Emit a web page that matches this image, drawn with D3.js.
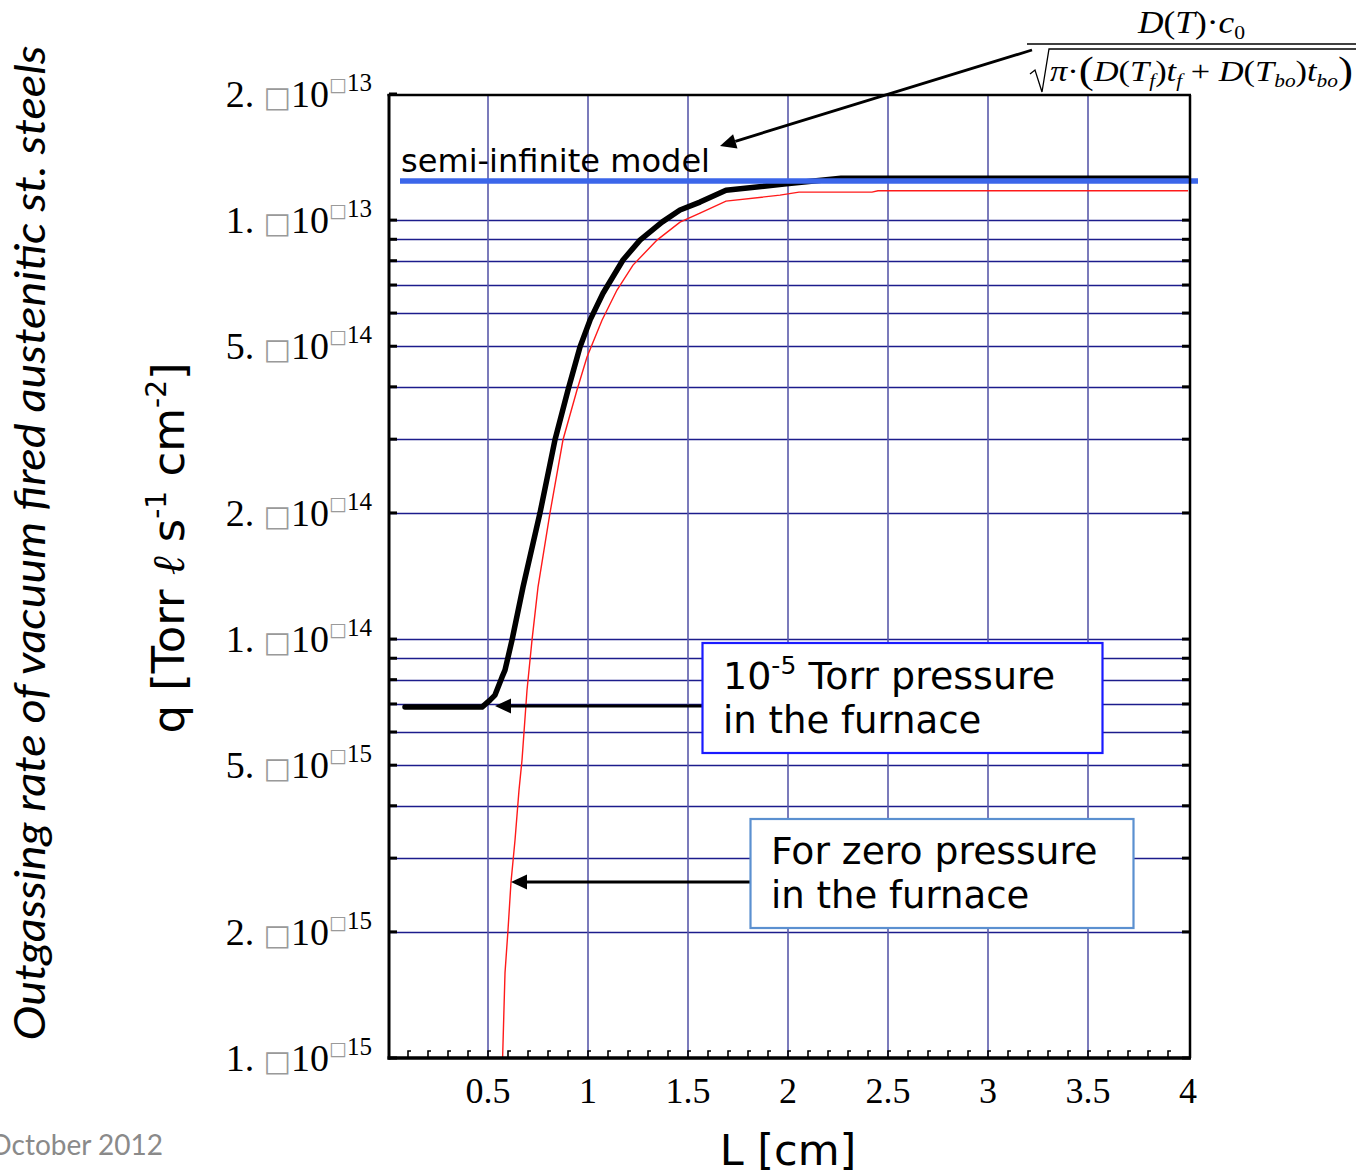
<!DOCTYPE html>
<html><head><meta charset="utf-8">
<script src="https://cdnjs.cloudflare.com/ajax/libs/d3/7.8.5/d3.min.js"></script>
<style>body{margin:0;background:#fff;overflow:hidden}</style>
</head><body>
<svg id="chart" width="1358" height="1175"></svg>
<script>
// ---------- data ----------
const xTicks = [0.5, 1, 1.5, 2, 2.5, 3, 3.5, 4];
const xTickLabels = ["0.5", "1", "1.5", "2", "2.5", "3", "3.5", "4"];
const yTicks = [2e-13, 1e-13, 5e-14, 2e-14, 1e-14, 5e-15, 2e-15, 1e-15];
const yTickMantissa = ["2.", "1.", "5.", "2.", "1.", "5.", "2.", "1."];
const yTickExponent = ["13", "13", "14", "14", "14", "15", "15", "15"];

// 10^-5 Torr pressure in the furnace (black)
const pressureL = [0.085, 0.47, 0.51, 0.535, 0.57, 0.585, 0.62, 0.675, 0.76, 0.835, 0.90, 0.96, 1.01, 1.075, 1.175, 1.26, 1.37, 1.46, 1.56, 1.69, 1.98, 2.265, 4.0];
const pressureQ = [6.88e-15, 6.88e-15, 7.15e-15, 7.35e-15, 8.11e-15, 8.43e-15, 9.94e-15, 1.33e-14, 2.0e-14, 2.99e-14, 3.93e-14, 4.98e-14, 5.77e-14, 6.69e-14, 8.03e-14, 8.96e-14, 9.89e-14, 1.057e-13, 1.104e-13, 1.179e-13, 1.219e-13, 1.259e-13, 1.259e-13];

// zero pressure in the furnace (red)
const zeroL = [0.573, 0.585, 0.60, 0.615, 0.635, 0.655, 0.67, 0.695, 0.72, 0.75, 0.81, 0.875, 0.945, 0.995, 1.07, 1.145, 1.225, 1.345, 1.46, 1.56, 1.69, 1.96, 2.055, 2.42, 2.45, 4.0];
const zeroQ = [1.0e-15, 1.596e-15, 2.02e-15, 2.63e-15, 3.31e-15, 4.36e-15, 5.14e-15, 7.55e-15, 9.94e-15, 1.33e-14, 2.0e-14, 2.99e-14, 3.93e-14, 4.71e-14, 5.77e-14, 6.81e-14, 7.81e-14, 8.96e-14, 9.89e-14, 1.039e-13, 1.11e-13, 1.147e-13, 1.166e-13, 1.166e-13, 1.175e-13, 1.175e-13];

// semi-infinite model (blue)
const semiInfiniteL = [0.06, 4.05];
const semiInfiniteQ = [1.24e-13, 1.24e-13];

// ---------- scales ----------
const svg = d3.select("#chart");
const x = d3.scaleLinear().domain([0, 4]).range([388, 1188]);
const y = d3.scaleLog().domain([1e-15, 2e-13]).range([1058, 94]);
const pLeft = 389, pRight = 1190, pTop = 95, pBottom = 1058;

// grid values
const gridQ = [];
for (let e = -15; e <= -14; e++) for (let k = 1; k <= 9; k++) gridQ.push(k * Math.pow(10, e));
gridQ.push(1e-13);
const gridL = [0.5, 1, 1.5, 2, 2.5, 3, 3.5];

const g = svg.append("g");
g.selectAll("line.hg").data(gridQ.filter(v => v > 1e-15)).join("line")
  .attr("x1", pLeft).attr("x2", pRight)
  .attr("y1", d => Math.round(y(d)) + 0.5).attr("y2", d => Math.round(y(d)) + 0.5)
  .attr("stroke", "#1c1c8c").attr("stroke-width", 1.3);
g.selectAll("line.vg").data(gridL).join("line")
  .attr("x1", d => x(d)).attr("x2", d => x(d))
  .attr("y1", pTop).attr("y2", pBottom)
  .attr("stroke", "#5a5aaa").attr("stroke-width", 1.6);

// left / right ticks
g.selectAll("line.lt").data(gridQ.concat([2e-13])).join("line")
  .attr("x1", pLeft).attr("x2", pLeft + 8)
  .attr("y1", d => y(d)).attr("y2", d => y(d))
  .attr("stroke", "#000").attr("stroke-width", 3);
g.selectAll("line.rt").data(gridQ).join("line")
  .attr("x1", pRight - 8).attr("x2", pRight)
  .attr("y1", d => y(d)).attr("y2", d => y(d))
  .attr("stroke", "#000").attr("stroke-width", 3);
// bottom minor ticks
const minorL = d3.range(1, 40).map(i => i / 10);
g.selectAll("path.bt").data(minorL).join("path")
  .attr("d", d => `M${x(d)},${pBottom} V${pBottom - 7} h3`)
  .attr("fill", "none").attr("stroke", "#000").attr("stroke-width", 1.6);

// curves
const line = d3.line().x(d => x(d[0])).y(d => y(d[1]));
svg.append("path").datum(zeroL.map((l, i) => [l, zeroQ[i]]))
  .attr("d", line).attr("fill", "none").attr("stroke", "#ff1a1a").attr("stroke-width", 1.4);
svg.append("path").datum(pressureL.map((l, i) => [l, pressureQ[i]]))
  .attr("d", line).attr("fill", "none").attr("stroke", "#000").attr("stroke-width", 5.5)
  .attr("stroke-linecap", "round").attr("stroke-linejoin", "round");
svg.append("path").datum(semiInfiniteL.map((l, i) => [l, semiInfiniteQ[i]]))
  .attr("d", line).attr("fill", "none").attr("stroke", "#3b66ea").attr("stroke-width", 5.5);

// frame
svg.append("line").attr("x1", pLeft).attr("x2", pLeft).attr("y1", pTop - 1).attr("y2", pBottom + 1.5).attr("stroke", "#000").attr("stroke-width", 3);
svg.append("line").attr("x1", pLeft - 1.5).attr("x2", pRight + 1).attr("y1", pBottom).attr("y2", pBottom).attr("stroke", "#000").attr("stroke-width", 3.5);
svg.append("line").attr("x1", pLeft - 1.5).attr("x2", pRight + 1).attr("y1", pTop).attr("y2", pTop).attr("stroke", "#000").attr("stroke-width", 2.5);
svg.append("line").attr("x1", pRight).attr("x2", pRight).attr("y1", pTop).attr("y2", pBottom).attr("stroke", "#000").attr("stroke-width", 2.5);

// x tick labels
svg.selectAll("text.xl").data(xTicks).join("text")
  .attr("x", d => x(d)).attr("y", 1103)
  .attr("text-anchor", "middle")
  .attr("font-family", "Liberation Serif, Times New Roman, serif").attr("font-size", 36)
  .text((d, i) => xTickLabels[i]);

// y tick labels
yTicks.forEach((v, i) => {
  const t = svg.append("text").attr("x", 372).attr("y", y(v) + 13)
    .attr("text-anchor", "end")
    .attr("font-family", "Liberation Serif, Times New Roman, serif").attr("font-size", 38);
  t.append("tspan").text(yTickMantissa[i] + " ");
  t.append("tspan").attr("font-family", "DejaVu Sans").attr("font-size", 29).attr("fill", "#9a9a9a").text("□");
  t.append("tspan").text("10");
  t.append("tspan").attr("dy", -16).attr("font-family", "DejaVu Sans").attr("font-size", 19).attr("fill", "#9a9a9a").text("□");
  t.append("tspan").attr("font-size", 25).text(yTickExponent[i]);
});

// axis titles
svg.append("text").attr("x", 788).attr("y", 1165).attr("text-anchor", "middle")
  .attr("font-family", "DejaVu Sans, Verdana, sans-serif").attr("font-size", 43).text("L [cm]");

const yt = svg.append("text").attr("transform", "translate(184,548) rotate(-90)")
  .attr("text-anchor", "middle")
  .attr("font-family", "DejaVu Sans, Verdana, sans-serif").attr("font-size", 45);
yt.append("tspan").text("q [Torr ");
yt.append("tspan").attr("font-family", "DejaVu Serif").attr("font-style", "italic").text("ℓ");
yt.append("tspan").text(" s");
yt.append("tspan").attr("dy", -18).attr("font-size", 28).text("-1");
yt.append("tspan").attr("dy", 18).text(" cm");
yt.append("tspan").attr("dy", -18).attr("font-size", 28).text("-2");
yt.append("tspan").attr("dy", 18).text("]");

svg.append("text").attr("transform", "translate(45,543) rotate(-90)")
  .attr("text-anchor", "middle")
  .attr("font-family", "Lato, Open Sans, sans-serif").attr("font-style", "italic").attr("font-size", 42)
  .attr("textLength", 995).attr("lengthAdjust", "spacingAndGlyphs")
  .text("Outgassing rate of vacuum fired austenitic st. steels");

svg.append("text").attr("x", 163).attr("y", 1155).attr("text-anchor", "end")
  .attr("font-family", "Lato, Open Sans, sans-serif").attr("font-size", 28).attr("fill", "#8a8a8a")
  .text("October 2012");

// semi-infinite label
svg.append("text").attr("x", 401).attr("y", 172)
  .attr("font-family", "DejaVu Sans, Verdana, sans-serif").attr("font-size", 32)
  .attr("textLength", 309).attr("lengthAdjust", "spacingAndGlyphs")
  .text("semi-infinite model");

// arrows
function arrow(x1, y1, x2, y2, w) {
  const ang = Math.atan2(y2 - y1, x2 - x1);
  const len = 16, hw = 7.5;
  const bx = x2 - len * Math.cos(ang), by = y2 - len * Math.sin(ang);
  svg.append("line").attr("x1", x1).attr("y1", y1).attr("x2", bx).attr("y2", by)
    .attr("stroke", "#000").attr("stroke-width", w);
  const px = -Math.sin(ang) * hw, py = Math.cos(ang) * hw;
  svg.append("polygon").attr("points", `${x2},${y2} ${bx + px},${by + py} ${bx - px},${by - py}`).attr("fill", "#000");
}
arrow(1032, 50, 720, 146, 2.8);
arrow(703, 706, x(0.535), 706, 3);
arrow(751, 882, x(0.615), 882, 3);

// boxes
function box(bx, by, bw, bh, stroke) {
  svg.append("rect").attr("x", bx).attr("y", by).attr("width", bw).attr("height", bh)
    .attr("fill", "#fff").attr("stroke", stroke).attr("stroke-width", 2.2);
}
box(702.5, 643, 400, 110, "#1a1aff");
box(750.5, 819, 383, 109, "#5b90d0");

const b1 = svg.append("text").attr("x", 723).attr("y", 689)
  .attr("font-family", "DejaVu Sans, Verdana, sans-serif").attr("font-size", 38);
b1.append("tspan").text("10");
b1.append("tspan").attr("dy", -15).attr("font-size", 25).text("-5");
b1.append("tspan").attr("dy", 15).text(" Torr pressure");
svg.append("text").attr("x", 723).attr("y", 733)
  .attr("font-family", "DejaVu Sans, Verdana, sans-serif").attr("font-size", 37).text("in the furnace");
svg.append("text").attr("x", 771).attr("y", 864)
  .attr("font-family", "DejaVu Sans, Verdana, sans-serif").attr("font-size", 37.7).text("For zero pressure");
svg.append("text").attr("x", 771).attr("y", 908)
  .attr("font-family", "DejaVu Sans, Verdana, sans-serif").attr("font-size", 37).text("in the furnace");

// formula
const serif = "Liberation Serif, Times New Roman, serif";
svg.append("line").attr("x1", 1027).attr("x2", 1356).attr("y1", 44).attr("y2", 44).attr("stroke", "#000").attr("stroke-width", 1.3);
svg.append("path").attr("d", "M1030,74 L1035,70 L1042,92 L1049,49 L1356,49")
  .attr("fill", "none").attr("stroke", "#000").attr("stroke-width", 1.3);
const num = svg.append("text").attr("x", 1138).attr("y", 33)
  .attr("font-family", serif).attr("font-size", 31).attr("textLength", 107).attr("lengthAdjust", "spacingAndGlyphs");
num.append("tspan").attr("font-style", "italic").text("D");
num.append("tspan").text("(");
num.append("tspan").attr("font-style", "italic").text("T");
num.append("tspan").text(")·");
num.append("tspan").attr("font-style", "italic").text("c");
num.append("tspan").attr("dy", 6).attr("font-size", 19).text("0");

const den = svg.append("text").attr("x", 1050).attr("y", 81)
  .attr("font-family", serif).attr("font-size", 29).attr("textLength", 303).attr("lengthAdjust", "spacingAndGlyphs");
den.append("tspan").attr("font-style", "italic").text("π");
den.append("tspan").text("·");
den.append("tspan").attr("font-size", 38).attr("dy", 2).text("(");
den.append("tspan").attr("dy", -2).attr("font-style", "italic").text("D");
den.append("tspan").text("(");
den.append("tspan").attr("font-style", "italic").text("T");
den.append("tspan").attr("dy", 6).attr("font-size", 18).attr("font-style", "italic").text("f");
den.append("tspan").attr("dy", -6).text(")");
den.append("tspan").attr("font-style", "italic").text("t");
den.append("tspan").attr("dy", 6).attr("font-size", 18).attr("font-style", "italic").text("f");
den.append("tspan").attr("dy", -6).text(" + ");
den.append("tspan").attr("font-style", "italic").text("D");
den.append("tspan").text("(");
den.append("tspan").attr("font-style", "italic").text("T");
den.append("tspan").attr("dy", 6).attr("font-size", 18).attr("font-style", "italic").text("bo");
den.append("tspan").attr("dy", -6).text(")");
den.append("tspan").attr("font-style", "italic").text("t");
den.append("tspan").attr("dy", 6).attr("font-size", 18).attr("font-style", "italic").text("bo");
den.append("tspan").attr("dy", -4).attr("font-size", 38).text(")");
</script>
</body></html>
